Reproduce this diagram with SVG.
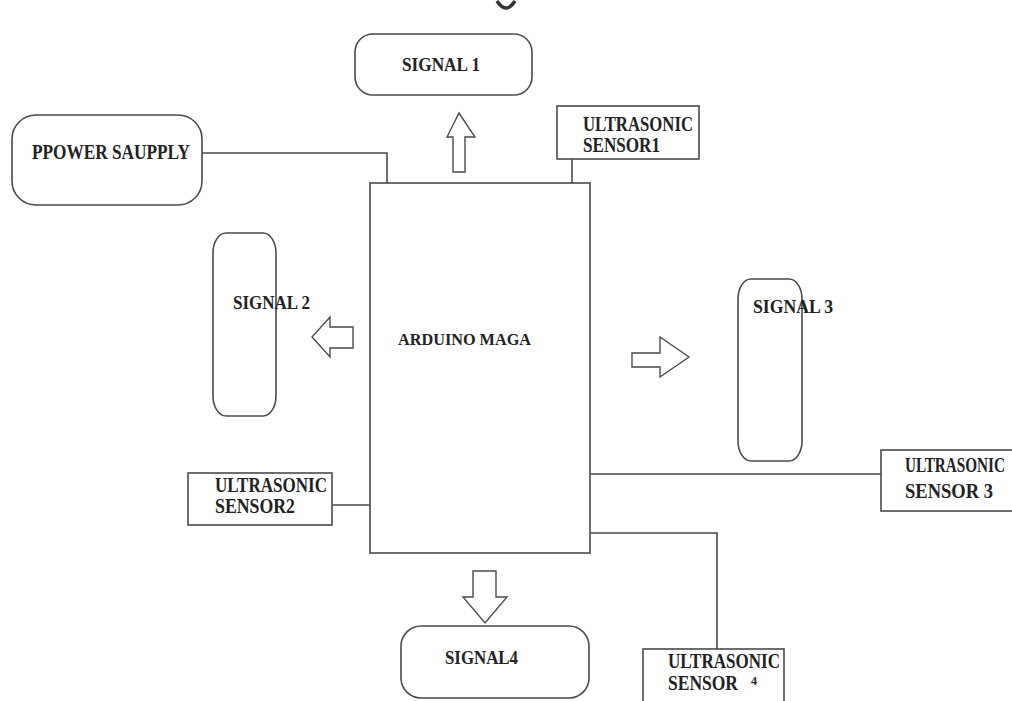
<svg xmlns="http://www.w3.org/2000/svg" width="1012" height="701" viewBox="0 0 1012 701">
<style>
.box{fill:#fff;stroke:#4a4a4a;stroke-width:1.6}
.ln{fill:none;stroke:#4a4a4a;stroke-width:1.6}
.arr{fill:#fff;stroke:#4a4a4a;stroke-width:1.4;stroke-linejoin:miter}
text{font-family:"Liberation Serif","Times New Roman",serif;font-weight:bold;fill:#222}
.sig{font-size:18px}
.sen{font-size:20px}
</style>
<rect width="1012" height="701" fill="#fff"/>
<path d="M497,1 Q506,15 515,1" fill="none" stroke="#333" stroke-width="3.5"/>
<g id="connectors">
<polyline class="ln" points="202,153 387,153 387,183"/>
<line class="ln" x1="572" y1="159" x2="572" y2="183"/>
<line class="ln" x1="332" y1="505" x2="370" y2="505"/>
<line class="ln" x1="590" y1="474" x2="882" y2="474"/>
<polyline class="ln" points="590,533 717,533 717,649"/>
<polygon class="arr" points="453,172 465,172 465,137 475,137 459,113 447,137 453,137"/>
<polygon class="arr" points="353,327 353,348 330,348 330,357 312,337 330,317 330,327"/>
<polygon class="arr" points="632,353 660,353 660,337 689,357 660,377 660,367 632,367"/>
<polygon class="arr" points="473,571 496,571 496,597 507,597 485,623 463,597 473,597"/>
</g>
<g id="arduino">
<rect class="box" x="370" y="183" width="220" height="370"/>
<text x="398" y="345" font-size="16" textLength="133" lengthAdjust="spacingAndGlyphs">ARDUINO MAGA</text>
</g>
<g id="power">
<rect class="box" x="12" y="115" width="190" height="90" rx="24" ry="24"/>
<text x="32" y="159" font-size="22" textLength="158" lengthAdjust="spacingAndGlyphs">PPOWER SAUPPLY</text>
</g>
<g id="signal1">
<rect class="box" x="355" y="34" width="177" height="61" rx="18" ry="18"/>
<text class="sig" x="402" y="71" textLength="78" lengthAdjust="spacingAndGlyphs">SIGNAL 1</text>
</g>
<g id="sensor1">
<rect class="box" x="557" y="106" width="142" height="53"/>
<text class="sen" x="583" y="131" textLength="110" lengthAdjust="spacingAndGlyphs">ULTRASONIC</text>
<text class="sen" x="583" y="152" textLength="77" lengthAdjust="spacingAndGlyphs">SENSOR1</text>
</g>
<g id="signal2">
<rect class="box" x="213" y="233" width="63" height="183" rx="13" ry="20"/>
<text class="sig" x="233" y="309" font-size="19" textLength="77" lengthAdjust="spacingAndGlyphs">SIGNAL 2</text>
</g>
<g id="signal3">
<rect class="box" x="738" y="279" width="64" height="182" rx="13" ry="20"/>
<text class="sig" x="753" y="313" textLength="80" lengthAdjust="spacingAndGlyphs">SIGNAL 3</text>
</g>
<g id="sensor2">
<rect class="box" x="188" y="473" width="144" height="52"/>
<text class="sen" x="215" y="492" textLength="112" lengthAdjust="spacingAndGlyphs">ULTRASONIC</text>
<text class="sen" x="215" y="513" textLength="80" lengthAdjust="spacingAndGlyphs">SENSOR2</text>
</g>
<g id="sensor3">
<rect class="box" x="881" y="450" width="140" height="61"/>
<text class="sen" x="905" y="472" font-size="21" textLength="100" lengthAdjust="spacingAndGlyphs">ULTRASONIC</text>
<text class="sen" x="905" y="498" font-size="21" textLength="88" lengthAdjust="spacingAndGlyphs">SENSOR 3</text>
</g>
<g id="signal4">
<rect class="box" x="401" y="626" width="188" height="72" rx="20" ry="20"/>
<text class="sig" x="445" y="664" textLength="73" lengthAdjust="spacingAndGlyphs">SIGNAL4</text>
</g>
<g id="sensor4">
<rect class="box" x="643" y="649" width="141" height="60"/>
<text class="sen" x="668" y="668" textLength="112" lengthAdjust="spacingAndGlyphs">ULTRASONIC</text>
<text class="sen" x="668" y="690" textLength="70" lengthAdjust="spacingAndGlyphs">SENSOR</text>
<text x="751" y="685" font-size="12">4</text>
</g>
</svg>
